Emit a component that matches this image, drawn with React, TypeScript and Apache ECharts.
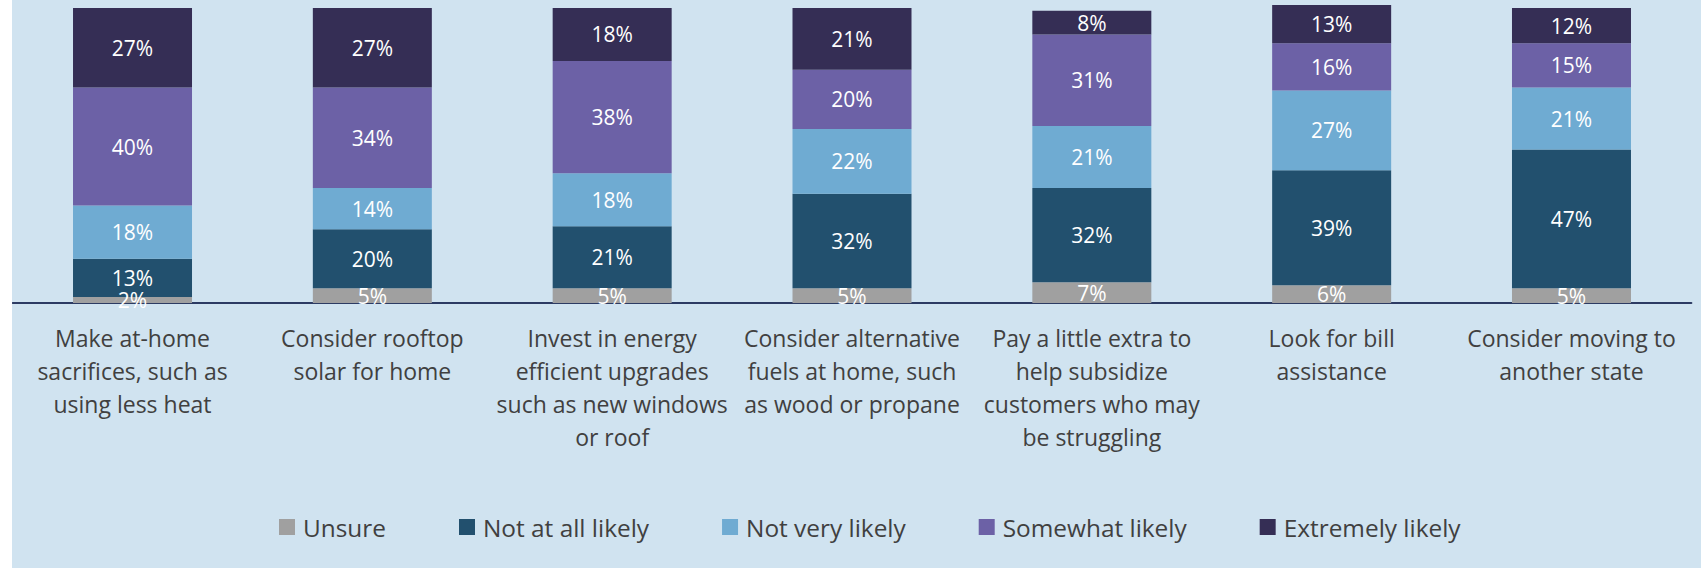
import React, { useEffect, useRef } from "react";
import * as echarts from "echarts";

const categories = [
  "Make at-home\nsacrifices, such as\nusing less heat",
  "Consider rooftop\nsolar for home",
  "Invest in energy\nefficient upgrades\nsuch as new windows\nor roof",
  "Consider alternative\nfuels at home, such\nas wood or propane",
  "Pay a little extra to\nhelp subsidize\ncustomers who may\nbe struggling",
  "Look for bill\nassistance",
  "Consider moving to\nanother state",
];

const seriesNames = ["Unsure", "Not at all likely", "Not very likely", "Somewhat likely", "Extremely likely"];

const unsure = [2, 5, 5, 5, 7, 6, 5];
const notAtAllLikely = [13, 20, 21, 32, 32, 39, 47];
const notVeryLikely = [18, 14, 18, 22, 21, 27, 21];
const somewhatLikely = [40, 34, 38, 20, 31, 16, 15];
const extremelyLikely = [27, 27, 18, 21, 8, 13, 12];

const seriesValues = [unsure, notAtAllLikely, notVeryLikely, somewhatLikely, extremelyLikely];
const colors = ["#A0A0A0", "#22506E", "#6FABD2", "#6C61A6", "#352E55"];

const FONT = "'Open Sans', sans-serif";

export default function App() {
  const ref = useRef<HTMLDivElement>(null);
  useEffect(() => {
    if (!ref.current) return;
    const chart = echarts.init(ref.current, undefined, { renderer: "svg" });
    chart.setOption({
      animation: false,
      backgroundColor: "#D0E3F0",
      grid: { left: 0.6, right: 9.6, top: 2, bottom: 265, containLabel: false },
      legend: {
        left: 262,
        top: 506,
        itemWidth: 16,
        itemHeight: 16,
        itemGap: 73,
        icon: "rect",
        textStyle: { fontFamily: FONT, fontSize: 24.4, color: "#404040", lineHeight: 32, padding: [0, 0, 0, 3] },
        data: seriesNames,
      },
      xAxis: {
        type: "category",
        data: categories,
        axisLine: { show: true, lineStyle: { color: "#2C3B63", width: 2 } },
        axisTick: { show: false },
        axisLabel: {
          interval: 0,
          margin: 18,
          fontFamily: FONT,
          fontSize: 23,
          lineHeight: 33,
          color: "#404040",
        },
      },
      yAxis: {
        type: "value",
        min: 0,
        max: 102,
        show: false,
        splitLine: { show: false },
      },
      series: seriesNames.map((name, i) => ({
        name,
        type: "bar",
        stack: "total",
        barWidth: 119,
        data: seriesValues[i],
        itemStyle: { color: colors[i] },
        label: {
          show: true,
          position: "inside",
          formatter: "{c}%",
          color: "#FFFFFF",
          fontFamily: FONT,
          fontSize: 21,
        },
      })),
    });
    return () => chart.dispose();
  }, []);
  return (
    <div style={{ position: "absolute", left: 0, top: 0, width: 1701, height: 568, background: "#FFFFFF" }}>
      <div ref={ref} style={{ position: "absolute", left: 12, top: 0, width: 1689, height: 568 }} />
    </div>
  );
}
